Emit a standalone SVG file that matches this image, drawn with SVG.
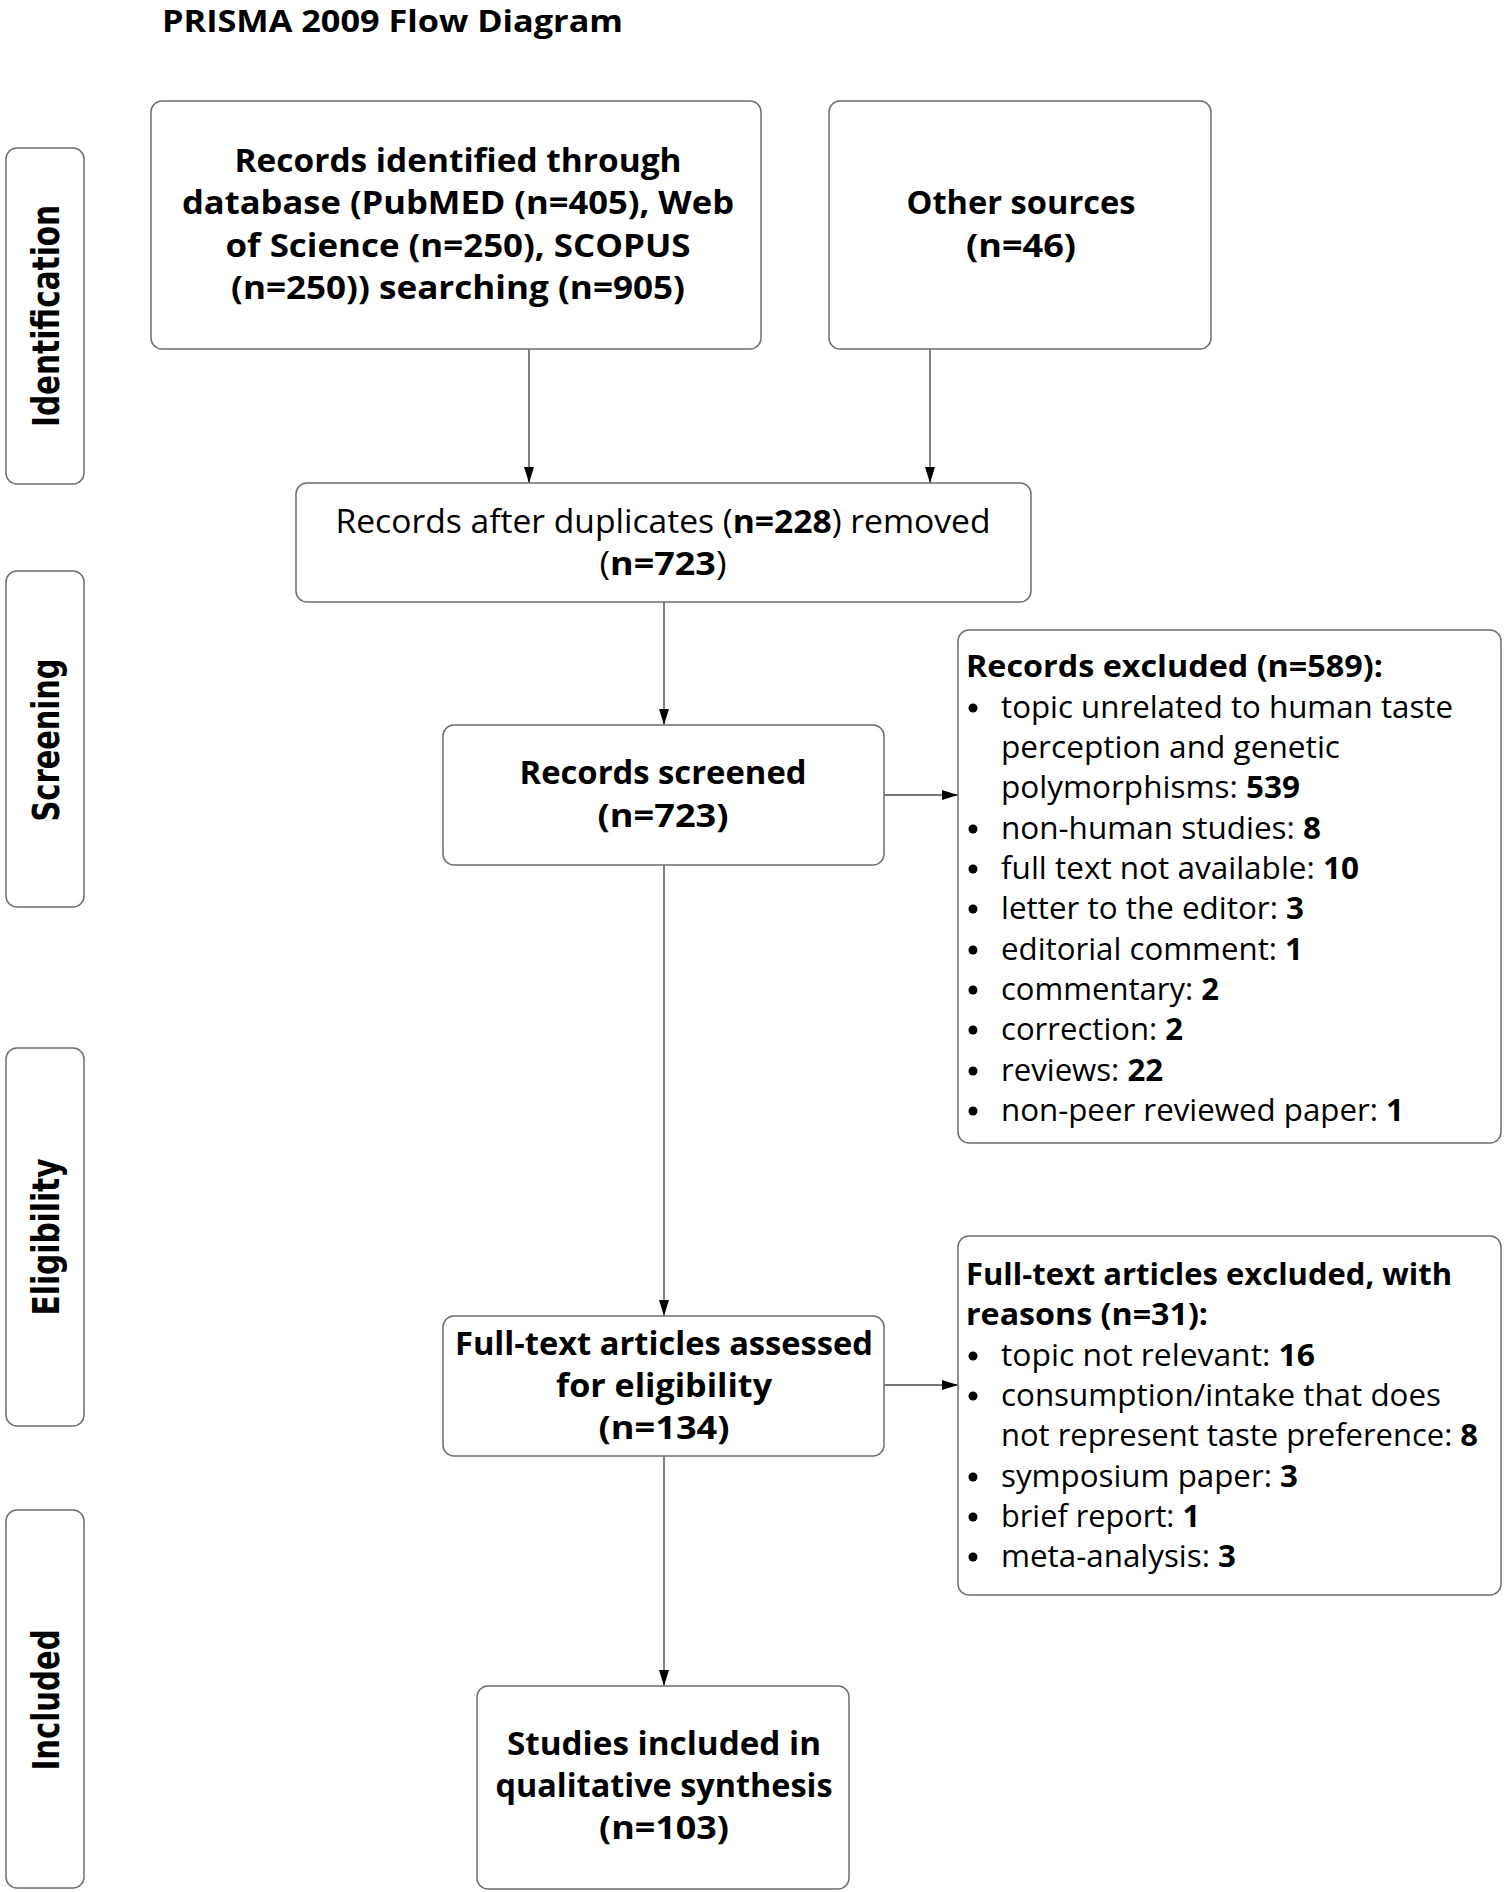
<svg xmlns="http://www.w3.org/2000/svg" width="1506" height="1892" viewBox="0 0 1506 1892">
<style>
.box{fill:#fff;stroke:#6e6e6e;stroke-width:1.5}
.side{fill:#fff;stroke:#6e6e6e;stroke-width:1.5}
.t{font-family:"Open Sans","Noto Sans",sans-serif;fill:#000}
.b{font-weight:bold}
.c{text-anchor:middle}
.n{font-size:33px}
.l{font-size:31px}
.s{font-family:"DejaVu Sans","Liberation Sans",sans-serif;font-weight:bold;font-size:37px;text-anchor:middle;fill:#000}
.con{stroke:#4a4a4a;stroke-width:1.4;fill:none;marker-end:url(#ah)}
.dot{fill:#000}
</style>
<defs>
<marker id="ah" markerWidth="16" markerHeight="10" refX="16" refY="5" orient="auto" markerUnits="userSpaceOnUse">
<path d="M0,0 L16,5 L0,10 Z" fill="#000"/>
</marker>
</defs>
<rect width="1506" height="1892" fill="#fff"/>

<text class="t b" x="162" y="32" font-size="30" textLength="461" lengthAdjust="spacingAndGlyphs">PRISMA 2009 Flow Diagram</text>

<g id="phase-identification">
<rect class="side" x="6" y="148" width="78" height="336" rx="11"/>
<text class="s" transform="translate(59,316) rotate(-90)" textLength="222" lengthAdjust="spacingAndGlyphs">Identification</text>
</g>
<g id="phase-screening">
<rect class="side" x="6" y="571" width="78" height="336" rx="11"/>
<text class="s" transform="translate(59,740) rotate(-90)" textLength="163" lengthAdjust="spacingAndGlyphs">Screening</text>
</g>
<g id="phase-eligibility">
<rect class="side" x="6" y="1048" width="78" height="378" rx="11"/>
<text class="s" transform="translate(59,1237) rotate(-90)" textLength="157" lengthAdjust="spacingAndGlyphs">Eligibility</text>
</g>
<g id="phase-included">
<rect class="side" x="6" y="1510" width="78" height="378" rx="11"/>
<text class="s" transform="translate(59,1700) rotate(-90)" textLength="141" lengthAdjust="spacingAndGlyphs">Included</text>
</g>

<g id="connectors">
<line class="con" x1="529" y1="349" x2="529" y2="483"/>
<line class="con" x1="930" y1="349" x2="930" y2="483"/>
<line class="con" x1="664" y1="602" x2="664" y2="725"/>
<line class="con" x1="884" y1="795" x2="958" y2="795"/>
<line class="con" x1="664" y1="865" x2="664" y2="1316"/>
<line class="con" x1="884" y1="1385" x2="958" y2="1385"/>
<line class="con" x1="664" y1="1456" x2="664" y2="1686"/>
</g>

<g id="records-identified">
<rect class="box" x="151" y="101" width="610" height="248" rx="11"/>
<text class="t b c n" x="458" y="172" textLength="447" lengthAdjust="spacingAndGlyphs">Records identified through</text>
<text class="t b c n" x="458" y="214" textLength="552" lengthAdjust="spacingAndGlyphs">database (PubMED (n=405), Web</text>
<text class="t b c n" x="458" y="257" textLength="465" lengthAdjust="spacingAndGlyphs">of Science (n=250), SCOPUS</text>
<text class="t b c n" x="458" y="299" textLength="454" lengthAdjust="spacingAndGlyphs">(n=250)) searching (n=905)</text>
</g>

<g id="other-sources">
<rect class="box" x="829" y="101" width="382" height="248" rx="11"/>
<text class="t b c n" x="1021" y="214" textLength="229" lengthAdjust="spacingAndGlyphs">Other sources</text>
<text class="t b c n" x="1021" y="257" textLength="110" lengthAdjust="spacingAndGlyphs">(n=46)</text>
</g>

<g id="records-after-duplicates">
<rect class="box" x="296" y="483" width="735" height="119" rx="11"/>
<text class="t c n" x="663" y="533" textLength="655" lengthAdjust="spacingAndGlyphs">Records after duplicates (<tspan class="b">n=228</tspan>) removed</text>
<text class="t c n" x="663" y="575" textLength="127" lengthAdjust="spacingAndGlyphs">(<tspan class="b">n=723</tspan>)</text>
</g>

<g id="records-screened">
<rect class="box" x="443" y="725" width="441" height="140" rx="11"/>
<text class="t b c n" x="663" y="784" textLength="287" lengthAdjust="spacingAndGlyphs">Records screened</text>
<text class="t b c n" x="663" y="827" textLength="131" lengthAdjust="spacingAndGlyphs">(n=723)</text>
</g>

<g id="records-excluded">
<rect class="box" x="958" y="630" width="543" height="513" rx="11"/>
<text class="t b l" x="966" y="677" textLength="417" lengthAdjust="spacingAndGlyphs">Records excluded (n=589):</text>
<circle class="dot" cx="973" cy="708" r="4.5"/>
<text class="t l" x="1001" y="718" textLength="452" lengthAdjust="spacingAndGlyphs">topic unrelated to human taste</text>
<text class="t l" x="1001" y="758" textLength="339" lengthAdjust="spacingAndGlyphs">perception and genetic</text>
<text class="t l" x="1001" y="798" textLength="299" lengthAdjust="spacingAndGlyphs">polymorphisms: <tspan class="b">539</tspan></text>
<circle class="dot" cx="973" cy="829" r="4.5"/>
<text class="t l" x="1001" y="839" textLength="320" lengthAdjust="spacingAndGlyphs">non-human studies: <tspan class="b">8</tspan></text>
<circle class="dot" cx="973" cy="869" r="4.5"/>
<text class="t l" x="1001" y="879" textLength="358" lengthAdjust="spacingAndGlyphs">full text not available: <tspan class="b">10</tspan></text>
<circle class="dot" cx="973" cy="909" r="4.5"/>
<text class="t l" x="1001" y="919" textLength="303" lengthAdjust="spacingAndGlyphs">letter to the editor: <tspan class="b">3</tspan></text>
<circle class="dot" cx="973" cy="950" r="4.5"/>
<text class="t l" x="1001" y="960" textLength="302" lengthAdjust="spacingAndGlyphs">editorial comment: <tspan class="b">1</tspan></text>
<circle class="dot" cx="973" cy="990" r="4.5"/>
<text class="t l" x="1001" y="1000" textLength="218" lengthAdjust="spacingAndGlyphs">commentary: <tspan class="b">2</tspan></text>
<circle class="dot" cx="973" cy="1030" r="4.5"/>
<text class="t l" x="1001" y="1040" textLength="182" lengthAdjust="spacingAndGlyphs">correction: <tspan class="b">2</tspan></text>
<circle class="dot" cx="973" cy="1071" r="4.5"/>
<text class="t l" x="1001" y="1081" textLength="162" lengthAdjust="spacingAndGlyphs">reviews: <tspan class="b">22</tspan></text>
<circle class="dot" cx="973" cy="1111" r="4.5"/>
<text class="t l" x="1001" y="1121" textLength="403" lengthAdjust="spacingAndGlyphs">non-peer reviewed paper: <tspan class="b">1</tspan></text>
</g>

<g id="fulltext-assessed">
<rect class="box" x="443" y="1316" width="441" height="140" rx="11"/>
<text class="t b c n" x="664" y="1355" textLength="418" lengthAdjust="spacingAndGlyphs">Full-text articles assessed</text>
<text class="t b c n" x="664" y="1397" textLength="216" lengthAdjust="spacingAndGlyphs">for eligibility</text>
<text class="t b c n" x="664" y="1439" textLength="131" lengthAdjust="spacingAndGlyphs">(n=134)</text>
</g>

<g id="fulltext-excluded">
<rect class="box" x="958" y="1236" width="543" height="359" rx="11"/>
<text class="t b l" x="966" y="1285" textLength="486" lengthAdjust="spacingAndGlyphs">Full-text articles excluded, with</text>
<text class="t b l" x="966" y="1325" textLength="242" lengthAdjust="spacingAndGlyphs">reasons (n=31):</text>
<circle class="dot" cx="973" cy="1356" r="4.5"/>
<text class="t l" x="1001" y="1366" textLength="314" lengthAdjust="spacingAndGlyphs">topic not relevant: <tspan class="b">16</tspan></text>
<circle class="dot" cx="973" cy="1396" r="4.5"/>
<text class="t l" x="1001" y="1406" textLength="440" lengthAdjust="spacingAndGlyphs">consumption/intake that does</text>
<text class="t l" x="1001" y="1446" textLength="477" lengthAdjust="spacingAndGlyphs">not represent taste preference: <tspan class="b">8</tspan></text>
<circle class="dot" cx="973" cy="1477" r="4.5"/>
<text class="t l" x="1001" y="1487" textLength="297" lengthAdjust="spacingAndGlyphs">symposium paper: <tspan class="b">3</tspan></text>
<circle class="dot" cx="973" cy="1517" r="4.5"/>
<text class="t l" x="1001" y="1527" textLength="199" lengthAdjust="spacingAndGlyphs">brief report: <tspan class="b">1</tspan></text>
<circle class="dot" cx="973" cy="1557" r="4.5"/>
<text class="t l" x="1001" y="1567" textLength="235" lengthAdjust="spacingAndGlyphs">meta-analysis: <tspan class="b">3</tspan></text>
</g>

<g id="studies-included">
<rect class="box" x="477" y="1686" width="372" height="203" rx="11"/>
<text class="t b c n" x="664" y="1755" textLength="314" lengthAdjust="spacingAndGlyphs">Studies included in</text>
<text class="t b c n" x="664" y="1797" textLength="337" lengthAdjust="spacingAndGlyphs">qualitative synthesis</text>
<text class="t b c n" x="664" y="1839" textLength="130" lengthAdjust="spacingAndGlyphs">(n=103)</text>
</g>
</svg>
